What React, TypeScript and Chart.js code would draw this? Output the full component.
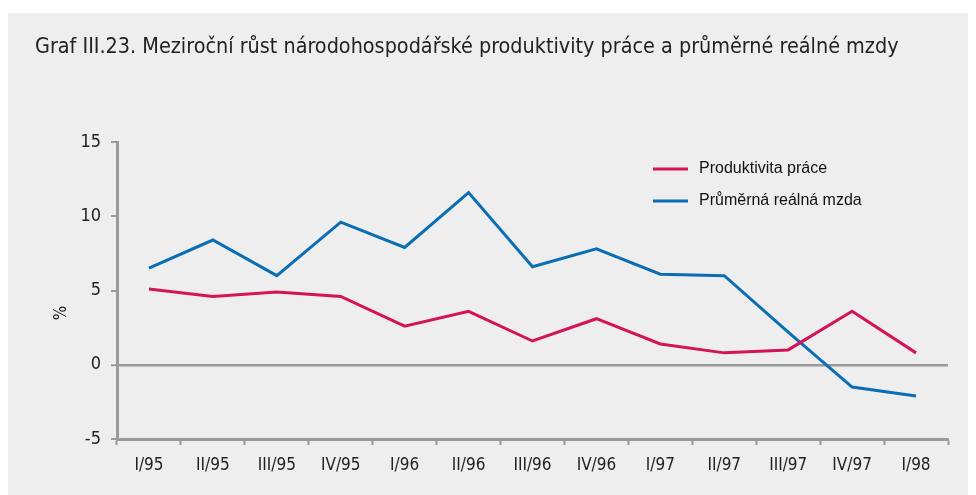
import React, { useEffect, useRef } from "react";
import { Chart, registerables } from "chart.js";

Chart.register(...registerables);

const titleText =
  "Graf III.23. Meziroční růst národohospodářské produktivity práce a průměrné reálné mzdy";
const categories = [
  "I/95", "II/95", "III/95", "IV/95", "I/96", "II/96", "III/96",
  "IV/96", "I/97", "II/97", "III/97", "IV/97", "I/98",
];
const productivity = [5.1, 4.6, 4.9, 4.6, 2.6, 3.6, 1.6, 3.1, 1.4, 0.8, 1.0, 3.6, 0.8];
const realWage = [6.5, 8.4, 6.0, 9.6, 7.9, 11.6, 6.6, 7.8, 6.1, 6.0, 2.2, -1.5, -2.1];
const seriesNames = ["Produktivita práce", "Průměrná reálná mzda"];
const yTicks = [-5, 0, 5, 10, 15];
const yAxisLabel = "%";

const RED = "#D4145A";
const BLUE = "#0B6EB3";
const GRAY = "#9A9A9A";
const BG = "#EEEEEE";
const FONT = "'Liberation Sans Narrow', 'DejaVu Sans Condensed', 'Liberation Sans', sans-serif";

const overlay = {
  id: "overlay",
  afterDraw(chart: any) {
    const ctx = chart.ctx;
    ctx.save();
    // title
    ctx.fillStyle = "#222";
    ctx.font = `21.4px ${FONT}`;
    ctx.textBaseline = "middle";
    ctx.textAlign = "left";
    ctx.fillText(titleText, 27, 34);
    // y axis label
    ctx.save();
    ctx.translate(54, 300);
    ctx.rotate(-Math.PI / 2);
    ctx.textAlign = "center";
    ctx.font = `17px ${FONT}`;
    ctx.fillText(yAxisLabel, 0, 0);
    ctx.restore();
    // legend
    const items = chart.data.datasets;
    items.forEach((ds: any, i: number) => {
      const y = 156 + i * 32;
      ctx.strokeStyle = ds.borderColor;
      ctx.lineWidth = 3;
      ctx.beginPath();
      ctx.moveTo(645, y);
      ctx.lineTo(680, y);
      ctx.stroke();
      ctx.fillStyle = "#111";
      ctx.font = "16px 'Liberation Sans', Arial, sans-serif";
      ctx.textAlign = "left";
      ctx.fillText(ds.label, 691, y);
    });
    ctx.restore();
  },
};

export default function App() {
  const ref = useRef<HTMLCanvasElement>(null);
  useEffect(() => {
    document.body.style.background = "#ffffff";
    const chart = new Chart(ref.current!, {
      type: "line",
      data: {
        labels: categories,
        datasets: [
          {
            label: seriesNames[0],
            data: productivity,
            borderColor: RED,
            backgroundColor: RED,
            borderWidth: 3,
            pointRadius: 0,
            tension: 0,
          },
          {
            label: seriesNames[1],
            data: realWage,
            borderColor: BLUE,
            backgroundColor: BLUE,
            borderWidth: 3,
            pointRadius: 0,
            tension: 0,
          },
        ],
      },
      options: {
        animation: false,
        responsive: false,
        layout: { padding: { top: 129, right: 28, left: 0, bottom: 0 } },
        plugins: { legend: { display: false }, title: { display: false }, tooltip: { enabled: false } },
        scales: {
          x: {
            offset: true,
            grid: {
              offset: true,
              drawOnChartArea: false,
              drawTicks: true,
              tickLength: 6,
              tickColor: GRAY,
              tickWidth: 2,
            },
            border: { color: GRAY, width: 3 },
            ticks: { color: "#222", font: { family: FONT, size: 17 }, padding: 10, maxRotation: 0, autoSkip: false },
            afterFit(scale: any) {
              scale.height = 56;
            },
          },
          y: {
            min: -5,
            max: 15,
            afterBuildTicks(scale: any) {
              scale.ticks = yTicks.map((v) => ({ value: v }));
            },
            grid: {
              color: (c: any) => (c.tick && c.tick.value === 0 ? GRAY : "rgba(0,0,0,0)"),
              lineWidth: (c: any) => (c.tick && c.tick.value === 0 ? 2.5 : 0),
              drawTicks: true,
              tickLength: 6,
              tickColor: GRAY,
              tickWidth: 2,
            },
            border: { color: GRAY, width: 3 },
            ticks: { color: "#222", font: { family: FONT, size: 18 }, padding: 10 },
            afterFit(scale: any) {
              scale.width = 109;
            },
          },
        },
      },
      plugins: [overlay],
    });
    return () => chart.destroy();
  }, []);
  return (
    <div style={{ marginTop: 5, width: 968, height: 482, background: BG }}>
      <canvas ref={ref} width={968} height={482} style={{ display: "block" }} />
    </div>
  );
}
